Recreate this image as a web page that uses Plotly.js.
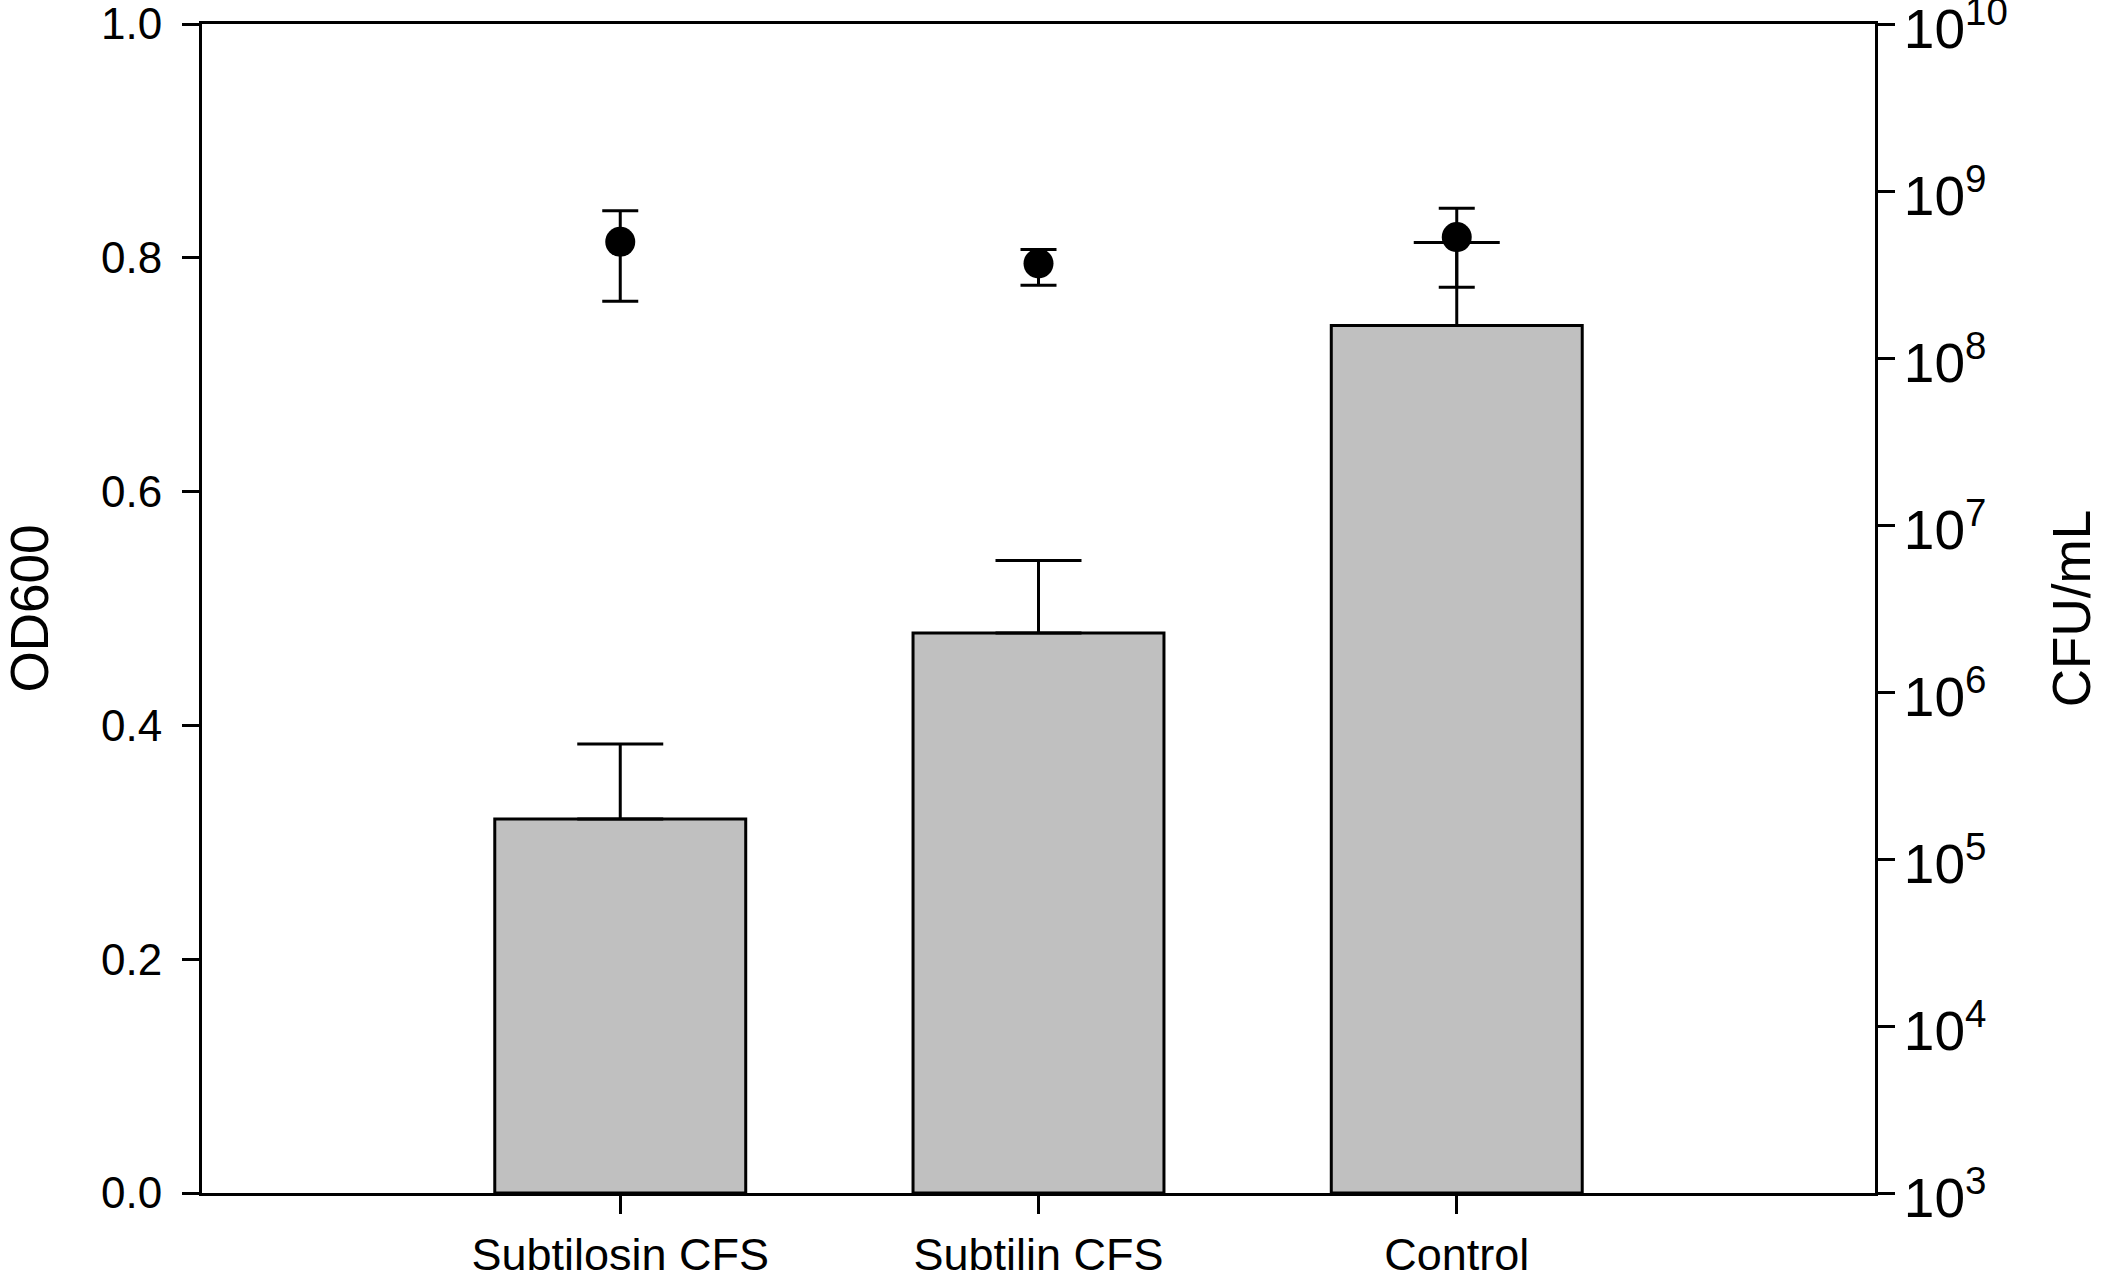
<!DOCTYPE html>
<html>
<head>
<meta charset="utf-8">
<script src="https://cdn.plot.ly/plotly-3.0.1.min.js"></script>
<style>html,body{margin:0;padding:0;background:#fff;}#chart{width:2101px;height:1277px;}</style>
</head>
<body>
<div id="chart"></div>
<script>
// Categories
const categories = ["Subtilosin CFS", "Subtilin CFS", "Control"];
// OD600 bar values and upward SD
const od600 = [0.320, 0.479, 0.742];
const od600Err = [0.064, 0.062, 0.071];
// CFU/mL point values and asymmetric errors
const cfu = [4.96e8, 3.68e8, 5.30e8];
const cfuErrPlus = [2.65e8, 0.79e8, 2.57e8];
const cfuErrMinus = [2.77e8, 0.95e8, 2.65e8];
// Tick labels
const odTicks = [0, 0.2, 0.4, 0.6, 0.8, 1.0];

const FONT = "Liberation Sans, Arial, sans-serif";

const bars = {
  type: "bar",
  x: categories,
  y: od600,
  width: 0.6,
  marker: {color: "#c0c0c0", line: {color: "#000", width: 3}},
  error_y: {type: "data", symmetric: false, array: od600Err, arrayminus: [0, 0, 0],
            color: "#000", thickness: 3, width: 43},
  yaxis: "y",
  showlegend: false,
  hoverinfo: "skip"
};

const points = {
  type: "scatter",
  mode: "markers",
  x: categories,
  y: cfu,
  yaxis: "y2",
  marker: {color: "#000", size: 30, symbol: "circle"},
  error_y: {type: "data", symmetric: false, array: cfuErrPlus, arrayminus: cfuErrMinus,
            color: "#000", thickness: 3, width: 18},
  showlegend: false,
  hoverinfo: "skip"
};

const layout = {
  width: 2101,
  height: 1277,
  margin: {l: 202, r: 226, t: 24, b: 84, pad: 0},
  paper_bgcolor: "#fff",
  plot_bgcolor: "#fff",
  font: {family: FONT, color: "#000", size: 44},
  showlegend: false,
  xaxis: {
    type: "category",
    range: [-1, 3],
    showgrid: false, zeroline: false,
    showline: true, linecolor: "#000", linewidth: 3, mirror: true,
    ticks: "outside", ticklen: 18, tickwidth: 3, tickcolor: "#000",
    tickfont: {family: FONT, size: 45, color: "#000"},
    ticklabelstandoff: 2,
    automargin: false
  },
  yaxis: {
    range: [0, 1],
    tickvals: odTicks,
    tickformat: ".1f",
    showgrid: false, zeroline: false,
    showline: true, linecolor: "#000", linewidth: 3,
    ticks: "outside", ticklen: 17, tickwidth: 3, tickcolor: "#000",
    tickfont: {family: FONT, size: 44, color: "#000"},
    ticklabelstandoff: 11,
    ticklabeloverflow: "allow",
    title: {text: "OD600", font: {family: FONT, size: 53, color: "#000"}, standoff: 46},
    automargin: false
  },
  yaxis2: {
    type: "log",
    range: [3, 10],
    dtick: 1,
    exponentformat: "power",
    showexponent: "all",
    overlaying: "y",
    side: "right",
    showgrid: false, zeroline: false,
    showline: true, linecolor: "#000", linewidth: 3,
    ticks: "outside", ticklen: 17, tickwidth: 3, tickcolor: "#000",
    tickfont: {family: FONT, size: 44, color: "#000"},
    ticklabelshift: 5,
    ticklabeloverflow: "allow",
    title: {text: "CFU/mL", font: {family: FONT, size: 53, color: "#000"}, standoff: 70},
    automargin: false
  },
  bargap: 0.4
};

Plotly.newPlot("chart", [bars, points], layout, {displayModeBar: false, staticPlot: true});
</script>
</body>
</html>
